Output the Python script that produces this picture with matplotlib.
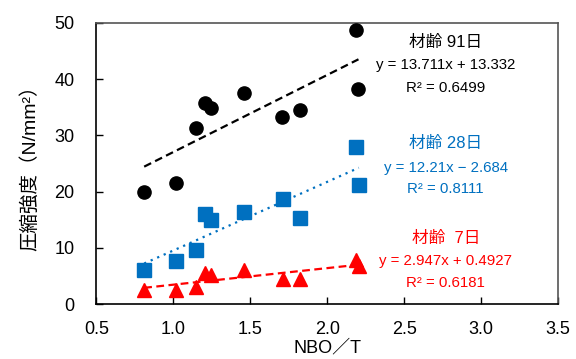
import matplotlib
matplotlib.use("Agg")
import matplotlib.pyplot as plt
import numpy as np

plt.rcParams['font.family'] = ['Liberation Sans', 'Noto Sans CJK JP', 'DejaVu Sans']

# data
x91 = [0.81, 1.014, 1.15, 1.205, 1.243, 1.46, 1.709, 1.82, 2.19, 2.203]
y91 = [19.9, 21.6, 31.3, 35.75, 34.9, 37.5, 33.2, 34.5, 48.7, 38.2]
x28 = [0.81, 1.016, 1.148, 1.205, 1.244, 1.46, 1.711, 1.82, 2.19, 2.205]
y28 = [6.0, 7.6, 9.6, 16.0, 14.9, 16.3, 18.7, 15.3, 27.9, 21.2]
x7 = [0.81, 1.014, 1.148, 1.205, 1.244, 1.46, 1.711, 1.82, 2.19, 2.205]
y7 = [2.5, 2.5, 3.1, 5.45, 5.15, 6.0, 4.44, 4.44, 7.9, 6.75]

fit91 = (13.711, 13.332)
fit28 = (12.21, -2.684)
fit7 = (2.947, 0.4927)

labels91 = ["材齢 91日", "y = 13.711x + 13.332", "R² = 0.6499"]
labels28 = ["材齢 28日", "y = 12.21x − 2.684", "R² = 0.8111"]
labels7 = ["材齢  7日", "y = 2.947x + 0.4927", "R² = 0.6181"]

xticks = [0.5, 1.0, 1.5, 2.0, 2.5, 3.0, 3.5]
yticks = [0, 10, 20, 30, 40, 50]

BLACK = "#000000"
BLUE = "#0070C0"
RED = "#FF0000"

fig = plt.figure(figsize=(5.76, 3.59), dpi=100)
ax = fig.add_axes([0.1675, 0.1532, 0.8013, 0.7828])

ax.plot(x91, y91, 'o', color=BLACK, markersize=9.5, zorder=3)
ax.plot(x28, y28, 's', color=BLUE, markersize=9.5, zorder=3)
ax.plot(x7, y7, '^', color=RED, markersize=10, zorder=3)

def trend(xs, fit, color, ls):
    xx = np.array([min(xs), max(xs)])
    ax.plot(xx, fit[0] * xx + fit[1], color=color, linestyle=ls, linewidth=1.6, zorder=2)

trend(x91, fit91, BLACK, (0, (3.5, 2)))
trend(x28, fit28, BLUE, (0, (1, 2.2)))
trend(x7, fit7, RED, (0, (3.5, 2)))

def annot(lines, color, ys):
    for t, yy, fs in zip(lines, ys, [12, 10.8, 10.8]):
        ax.text(2.77, yy, t, color=color, fontsize=fs, ha='center', va='center')

annot(labels91, BLACK, [46.6, 42.5, 38.4])
annot(labels28, BLUE, [28.6, 24.2, 20.5])
annot(labels7, RED, [11.6, 7.65, 3.7])

ax.set_xlim(0.5, 3.5)
ax.set_ylim(0, 50)
ax.set_xticks(xticks)
ax.set_yticks(yticks)
ax.set_xticklabels([f"{v:.1f}" for v in xticks])
ax.tick_params(direction='in', labelsize=13, length=5, width=1)
ax.tick_params(axis='x', pad=12)
ax.tick_params(axis='y', pad=16)
for s in ax.spines.values():
    s.set_linewidth(1.2)
ax.spines['right'].set_color('#555555')
ax.spines['top'].set_color('#555555')

ax.set_xlabel("NBO／T", fontsize=13, labelpad=1)
ax.set_ylabel("圧縮強度（N/mm²）", fontsize=14, labelpad=11)

fig.savefig("out.png", dpi=100)
